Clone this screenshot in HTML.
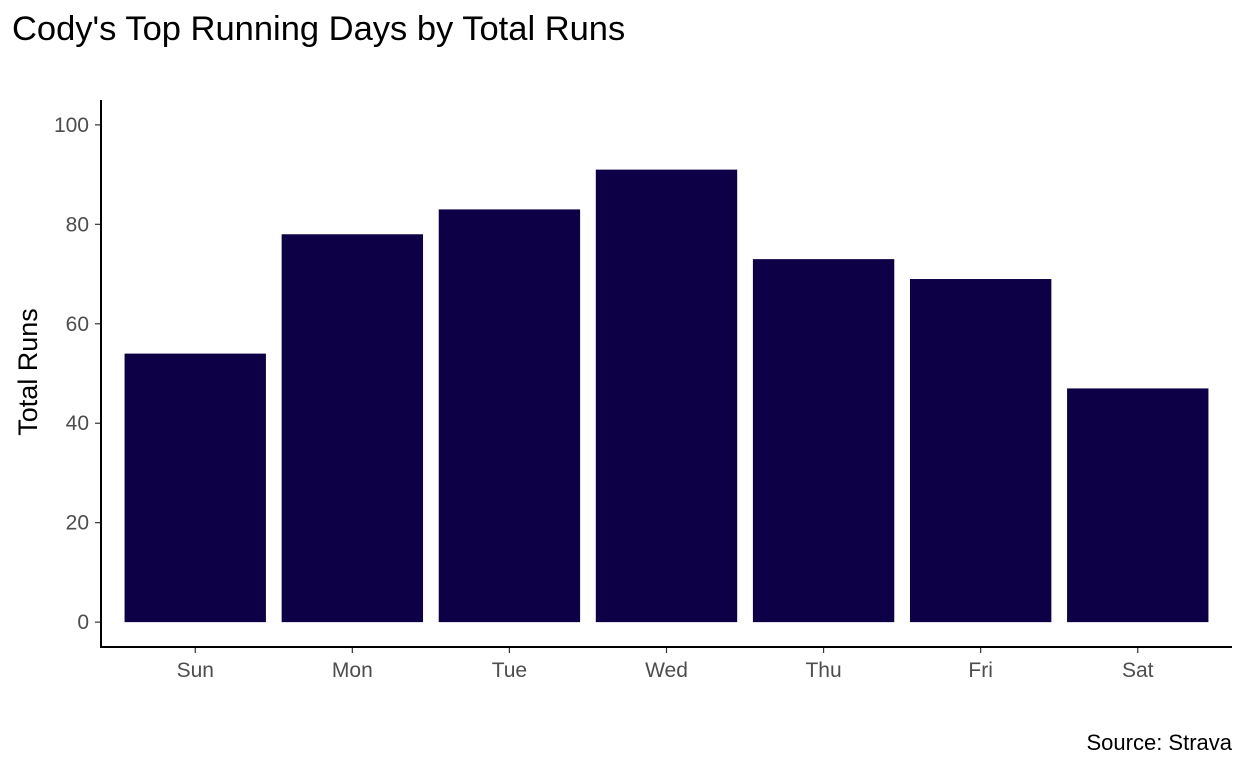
<!DOCTYPE html>
<html><head><meta charset="utf-8"><style>
body{margin:0;background:#fff;font-family:"Liberation Sans",Arial,sans-serif}
svg text{font-family:"Liberation Sans",Arial,sans-serif}
</style></head><body>
<svg width="1248" height="768" viewBox="0 0 1248 768">
<text x="12" y="40" font-size="34.5" fill="#000">Cody's Top Running Days by Total Runs</text>
<text transform="translate(37,372) rotate(-90)" text-anchor="middle" font-size="27" fill="#000">Total Runs</text>
<text x="1232" y="750" text-anchor="end" font-size="22" fill="#000">Source: Strava</text>
<g id="bars"></g><g id="axes"></g>
</svg>
<script>
const categories=["Sun","Mon","Tue","Wed","Thu","Fri","Sat"];
const runs=[54,78,83,91,73,69,47];
const yTicks=[0,20,40,60,80,100];
const L=101,R=1232,T=100,B=647,yMin=-5,yMax=105;
const ns="http://www.w3.org/2000/svg";
const band=(R-L)/(categories.length+0.2);
const xc=i=>L+(i+1-0.4)*band;
const y=v=>B-(v-yMin)/(yMax-yMin)*(B-T);
function mk(tag,attrs,parent){const e=document.createElementNS(ns,tag);for(const k in attrs)e.setAttribute(k,attrs[k]);parent.appendChild(e);return e;}
const bars=document.getElementById('bars'),axes=document.getElementById('axes');
runs.forEach((v,i)=>{
 const r=mk('rect',{x:xc(i)-band*0.45,y:y(v),width:band*0.9,height:y(0)-y(v),fill:'#0d0047'},bars);
 
 
 const t=mk('text',{x:xc(i),y:B+30,'text-anchor':'middle','font-size':'21',fill:'#4d4d4d'},axes);
 t.textContent=categories[i];
 
 
 mk('line',{x1:xc(i),x2:xc(i),y1:B,y2:B+6,stroke:'#333','stroke-width':1.2},axes);
});
yTicks.forEach(v=>{
 mk('line',{x1:L-6,x2:L,y1:y(v),y2:y(v),stroke:'#333','stroke-width':1.2},axes);
 const t=mk('text',{x:L-12,y:y(v)+7,'text-anchor':'end','font-size':'21',fill:'#4d4d4d'},axes);
 t.textContent=v;
 
 
});
const ya=mk('line',{x1:L,x2:L,y1:T,y2:B+1,stroke:'#000','stroke-width':2},axes);


const xa=mk('line',{x1:L-1,x2:R,y1:B,y2:B,stroke:'#000','stroke-width':2},axes);


</script>
</body></html>
